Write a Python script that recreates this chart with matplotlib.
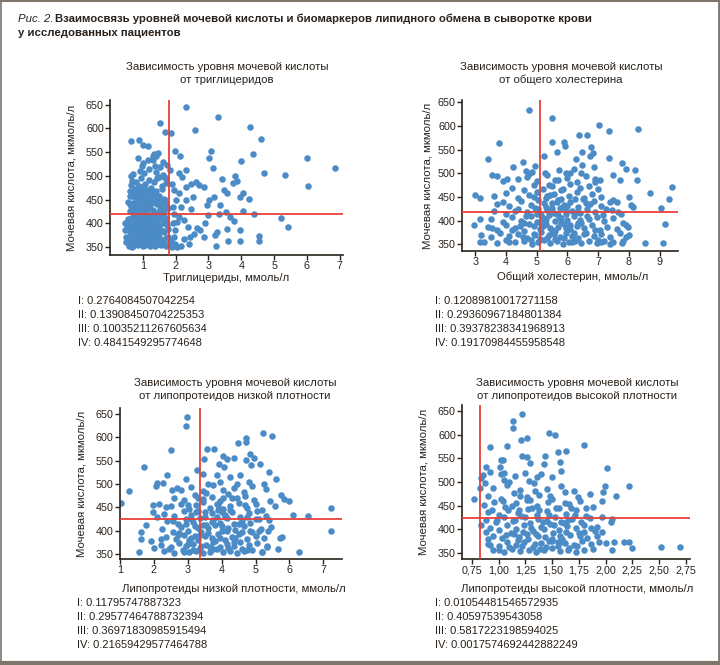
import matplotlib
matplotlib.use("Agg")
import matplotlib.pyplot as plt
from matplotlib import font_manager
from matplotlib.ticker import FuncFormatter
from matplotlib.lines import Line2D

# uric acid vs triglycerides (x: mmol/l, y: umol/l)
tg_pts = [
    (2.31, 645), (3.28, 625), (1.53, 612), (4.28, 603), (4.61, 577), (1.68, 592), (1.86, 591),
    (2.58, 597), (0.63, 573), (0.88, 575), (1.02, 566), (1.16, 562), (6.0, 538), (6.87, 516),
    (3.07, 553), (1.98, 552), (4.36, 546), (3.01, 538), (4.0, 531), (3.15, 516), (4.69, 506),
    (5.32, 501), (6.02, 478), (5.22, 412), (5.43, 392), (4.55, 374), (4.53, 362), (3.97, 362),
    (3.6, 362), (3.24, 351), (2.85, 370), (2.91, 400), (4.4, 419), (4.06, 425), (3.97, 456),
    (4.06, 464), (4.25, 452), (3.34, 438), (3.17, 456), (3.56, 463), (3.46, 470), (3.75, 484),
    (3.81, 500), (3.87, 490), (3.4, 494), (2.70, 481), (2.85, 476), (2.62, 488), (2.95, 439),
    (3.03, 448), (3.52, 423), (3.32, 419), (3.67, 413), (3.77, 405), (2.99, 417), (2.74, 385),
    (3.26, 382), (3.19, 376), (3.58, 387), (3.97, 385), (2.33, 512), (2.19, 497), (2.33, 477),
    (2.46, 483), (2.09, 463), (2.54, 456), (2.48, 431), (2.33, 449), (2.17, 435), (2.09, 413),
    (2.25, 406), (2.39, 392), (2.56, 378), (2.64, 389), (2.44, 371), (2.27, 366), (2.15, 353),
    (2.4, 356), (1.98, 357), (1.9, 350), (2.04, 350), (1.94, 371), (1.98, 385), (1.92, 400),
    (2.03, 403), (1.96, 420), (1.92, 435), (2.0, 449), (1.94, 470), (1.88, 483), (2.09, 505),
    (2.13, 541), (1.74, 523), (1.82, 512), (1.62, 530), (1.47, 548), (1.33, 546), (1.41, 541),
    (1.31, 533), (1.51, 519), (1.43, 495), (1.64, 498), (1.72, 495),
    (0.45, 400), (0.47, 385), (0.5, 372), (0.52, 395), (0.5, 360), (0.55, 410), (0.58, 352),
    (0.6, 425), (0.62, 440), (0.6, 468), (0.63, 480), (0.65, 500), (0.68, 490), (0.62, 458),
    (0.56, 445),
    (0.60, 356), (0.70, 352), (0.78, 358), (0.85, 354), (0.92, 357), (1.00, 351), (1.08, 355),
    (1.15, 359), (1.22, 353), (1.30, 357), (1.38, 352), (1.45, 356), (1.55, 354), (1.65, 358),
    (1.72, 351), (1.80, 356),
    (0.55, 368), (0.65, 363), (0.72, 371), (0.80, 366), (0.88, 373), (0.95, 362), (1.02, 369),
    (1.10, 374), (1.18, 364), (1.25, 370), (1.33, 367), (1.40, 362), (1.50, 372), (1.60, 365),
    (1.70, 369), (1.85, 363),
    (0.60, 381), (0.68, 388), (0.75, 377), (0.83, 384), (0.90, 379), (0.97, 389), (1.05, 382),
    (1.12, 376), (1.20, 386), (1.28, 380), (1.36, 388), (1.45, 378), (1.55, 385), (1.66, 381),
    (1.78, 387),
    (0.58, 398), (0.66, 392), (0.74, 403), (0.82, 395), (0.90, 401), (0.98, 393), (1.06, 399),
    (1.14, 404), (1.22, 391), (1.30, 397), (1.40, 402), (1.50, 394), (1.62, 400), (1.75, 396),
    (0.64, 412), (0.72, 407), (0.80, 417), (0.88, 410), (0.96, 415), (1.04, 408), (1.12, 418),
    (1.20, 411), (1.30, 406), (1.40, 414), (1.50, 409), (1.62, 416), (1.72, 412),
    (0.68, 428), (0.76, 423), (0.85, 432), (0.93, 425), (1.01, 430), (1.10, 422), (1.20, 434),
    (1.30, 427), (1.40, 421), (1.52, 431), (1.65, 426), (1.78, 433),
    (0.70, 443), (0.80, 438), (0.90, 447), (1.00, 440), (1.10, 445), (1.20, 437), (1.30, 449),
    (1.42, 441), (1.55, 446), (1.70, 439),
    (0.72, 455), (0.85, 461), (0.95, 452), (1.05, 458), (1.15, 463), (1.25, 454), (1.38, 460),
    (1.50, 457), (1.65, 451),
    (0.75, 472), (0.88, 467), (1.00, 477), (1.12, 470), (1.25, 475), (1.40, 468), (1.58, 473),
    (0.80, 486), (0.95, 495), (1.08, 483), (1.20, 491), (1.35, 488), (1.50, 497), (1.70, 484),
    (0.70, 503), (0.90, 510), (1.05, 505), (1.20, 515), (1.40, 508), (1.60, 502),
    (0.85, 538), (1.00, 527), (1.15, 533), (1.30, 542),
    (0.74, 360), (0.82, 375), (0.90, 365), (0.96, 383), (1.04, 361), (1.12, 391), (1.18, 372),
    (1.26, 398), (0.70, 395), (0.78, 412), (0.86, 400), (0.94, 420), (1.02, 404), (1.10, 427),
    (1.16, 395), (1.24, 418), (0.76, 436), (0.84, 450), (0.98, 462), (1.06, 436), (1.16, 447),
    (1.28, 465), (0.66, 377), (0.62, 405), (1.34, 378), (1.42, 391), (1.48, 420), (1.56, 440),
    (1.62, 383), (1.68, 405),
    (0.68, 350), (0.76, 366), (0.84, 390), (0.92, 410), (1.0, 386), (1.08, 365), (1.16, 430),
    (1.24, 356), (1.32, 392), (1.44, 366), (0.72, 420), (0.8, 455), (0.88, 478), (0.96, 438),
    (1.04, 470), (1.12, 455), (1.2, 402), (1.28, 442), (1.36, 412), (1.46, 452), (0.64, 436),
    (0.58, 387), (0.7, 463), (1.52, 362), (1.6, 428), (1.68, 448), (1.76, 372), (1.58, 479),
    (1.36, 520), (0.98, 520),
]

# uric acid vs total cholesterol
chol_pts = [
    (4.76, 633), (5.49, 617), (7.03, 603), (7.36, 589), (8.3, 593), (6.37, 581), (6.65, 581),
    (3.79, 565), (5.5, 567), (5.89, 567), (5.67, 546), (6.49, 546), (6.77, 555), (5.92, 557),
    (3.43, 530), (4.57, 523), (4.95, 516), (5.24, 537), (6.28, 531), (6.82, 543), (6.75, 537),
    (7.36, 533), (7.79, 521), (8.2, 508), (8.25, 487), (7.92, 509), (7.71, 487), (8.7, 459),
    (9.41, 472), (9.32, 445), (9.05, 426), (9.18, 394), (9.11, 352), (8.51, 352), (3.0, 454),
    (3.16, 449), (2.97, 390), (3.14, 404), (3.16, 354), (3.54, 497), (3.72, 495), (3.92, 484),
    (4.03, 489), (4.22, 514), (4.65, 504), (4.76, 499), (4.86, 502), (5.28, 500), (5.74, 508),
    (5.97, 500), (6.1, 500), (6.43, 500), (6.49, 518), (6.86, 514), (6.89, 482), (7.05, 487),
    (7.49, 497), (8.07, 434), (8.14, 428), (8.0, 451), (7.49, 444), (7.65, 419), (7.76, 415),
    (7.97, 387), (7.92, 366), (7.79, 352), (7.38, 350), (7.11, 355),
    (3.3, 356), (3.7, 352), (4.0, 359), (4.3, 354), (4.6, 357), (4.85, 351), (5.05, 355),
    (5.25, 360), (5.45, 353), (5.65, 357), (5.85, 351), (6.05, 356), (6.25, 359), (6.45, 353),
    (6.7, 357), (6.95, 352), (7.2, 358), (7.5, 354), (7.8, 357),
    (3.2, 370), (3.5, 365), (3.8, 374), (4.1, 367), (4.4, 372), (4.7, 363), (4.95, 369),
    (5.15, 376), (5.35, 364), (5.55, 371), (5.75, 366), (5.95, 375), (6.15, 368), (6.35, 363),
    (6.6, 373), (6.85, 367), (7.1, 371), (7.4, 365), (7.7, 374), (8.0, 369),
    (3.4, 386), (3.7, 381), (4.0, 391), (4.3, 384), (4.6, 379), (4.9, 389), (5.1, 383),
    (5.3, 393), (5.5, 380), (5.7, 387), (5.9, 392), (6.1, 382), (6.3, 388), (6.55, 385),
    (6.8, 391), (7.05, 380), (7.3, 386), (7.6, 383), (7.9, 390),
    (3.5, 403), (3.9, 398), (4.2, 408), (4.5, 400), (4.8, 410), (5.0, 397), (5.2, 405),
    (5.4, 411), (5.6, 399), (5.8, 406), (6.0, 402), (6.2, 409), (6.45, 396), (6.7, 404),
    (6.95, 408), (7.2, 399), (7.5, 405),
    (3.6, 420), (4.0, 415), (4.4, 425), (4.7, 418), (4.95, 427), (5.15, 413), (5.35, 422),
    (5.55, 417), (5.75, 426), (5.95, 414), (6.15, 421), (6.4, 416), (6.65, 424), (6.9, 419),
    (7.15, 413), (7.45, 423),
    (3.7, 436), (4.1, 431), (4.5, 441), (4.8, 434), (5.05, 443), (5.3, 430), (5.5, 438),
    (5.7, 444), (5.9, 433), (6.1, 440), (6.35, 429), (6.6, 437), (6.85, 442), (7.1, 432),
    (7.4, 439),
    (3.6, 452), (4.0, 458), (4.4, 447), (4.75, 455), (5.0, 461), (5.3, 449), (5.55, 457),
    (5.8, 446), (6.05, 453), (6.3, 460), (6.55, 448), (6.8, 456), (7.1, 451),
    (4.2, 470), (4.6, 465), (4.9, 476), (5.2, 468), (5.5, 473), (5.8, 464), (6.1, 478),
    (6.4, 469), (6.7, 474), (7.0, 466),
    (4.4, 488), (4.7, 493), (5.0, 484), (5.35, 497), (5.7, 486), (6.0, 491), (6.3, 482),
    (6.6, 495), (6.9, 489),
    (4.55, 366), (4.75, 392), (4.9, 372), (5.0, 414), (5.1, 361), (5.2, 388), (5.3, 404),
    (5.4, 370), (5.5, 426), (5.6, 378), (5.7, 412), (5.8, 395), (5.9, 364), (6.0, 432),
    (6.1, 390), (6.2, 375), (6.3, 418), (6.4, 401), (6.5, 446), (5.45, 455), (5.65, 440),
    (5.85, 468), (6.05, 382), (6.25, 358), (4.65, 410), (4.45, 389), (5.25, 437), (5.95, 421),
    (4.2, 380), (4.6, 395), (4.8, 360), (5.05, 425), (5.15, 395), (5.35, 452), (5.45, 385),
    (5.6, 362), (5.75, 405), (5.85, 430), (5.95, 385), (6.15, 355), (6.25, 445), (6.35, 395),
    (6.55, 372), (6.65, 410), (6.75, 435), (6.9, 380), (7.0, 360), (7.25, 425), (3.9, 440),
    (4.1, 355), (4.3, 420), (3.55, 385), (7.6, 440), (7.8, 395), (6.2, 510), (5.6, 485),
    (4.9, 450), (5.4, 475),
]

# uric acid vs LDL
ldl_pts = [
    (2.98, 643), (2.94, 624), (5.22, 610), (5.47, 603), (4.71, 598), (4.71, 590), (4.49, 588),
    (3.57, 575), (3.78, 575), (2.51, 572), (1.71, 537), (1.27, 485), (1.02, 460), (1.78, 412),
    (1.61, 398), (1.61, 382), (1.57, 355), (7.24, 448), (7.22, 400), (6.56, 431), (6.29, 355),
    (6.1, 433), (5.98, 463), (5.84, 468), (5.76, 476), (5.67, 360), (5.78, 387), (5.73, 383),
    (5.61, 510), (5.39, 525), (5.12, 543), (4.86, 540), (4.94, 556), (4.84, 565), (4.71, 552),
    (4.35, 555), (4.04, 560), (4.16, 553), (3.92, 543), (4.06, 537), (3.47, 553), (3.27, 530),
    (3.45, 521), (2.96, 510), (2.39, 520), (2.1, 501), (2.06, 495), (2.27, 502), (2.69, 492),
    (2.53, 487), (5.25, 500), (5.31, 490), (5.43, 463), (5.57, 452), (5.39, 423), (5.1, 400),
    (5.37, 400), (5.33, 367), (5.2, 355), (4.75, 358), (2.08, 430), (1.96, 440), (2.16, 458),
    (1.96, 455), (1.9, 378), (2.0, 362), (2.2, 382),
    (2.3, 356), (2.6, 352), (2.85, 359), (3.05, 354), (3.25, 357), (3.45, 351), (3.65, 355),
    (3.85, 360), (4.05, 353), (4.25, 357), (4.45, 351), (4.65, 356), (4.9, 359), (5.2, 353),
    (2.2, 369), (2.5, 365), (2.75, 374), (2.95, 367), (3.15, 372), (3.35, 363), (3.55, 370),
    (3.75, 376), (3.95, 364), (4.15, 371), (4.35, 366), (4.55, 375), (4.8, 368), (5.05, 373),
    (5.35, 364),
    (2.35, 386), (2.65, 381), (2.9, 391), (3.1, 384), (3.3, 379), (3.5, 389), (3.7, 383),
    (3.9, 393), (4.1, 380), (4.3, 387), (4.5, 392), (4.75, 382), (5.0, 388), (5.25, 385),
    (2.25, 403), (2.55, 398), (2.8, 408), (3.0, 400), (3.2, 410), (3.4, 397), (3.6, 405),
    (3.8, 411), (4.0, 399), (4.2, 406), (4.4, 402), (4.65, 409), (4.9, 396), (5.15, 404),
    (5.45, 407),
    (2.4, 420), (2.7, 415), (2.95, 425), (3.15, 418), (3.35, 427), (3.55, 413), (3.75, 422),
    (3.95, 417), (4.15, 426), (4.35, 414), (4.6, 421), (4.85, 416), (5.1, 424),
    (2.3, 436), (2.6, 431), (2.9, 441), (3.1, 434), (3.3, 443), (3.5, 430), (3.7, 438),
    (3.9, 444), (4.1, 433), (4.3, 440), (4.55, 429), (4.8, 437), (5.05, 442), (5.3, 432),
    (2.5, 452), (2.8, 458), (3.05, 447), (3.25, 455), (3.45, 461), (3.65, 449), (3.85, 457),
    (4.05, 446), (4.25, 453), (4.5, 460), (4.75, 448), (5.0, 456),
    (2.6, 470), (2.9, 465), (3.2, 476), (3.45, 468), (3.7, 473), (3.95, 464), (4.2, 478),
    (4.45, 469), (4.7, 474), (4.95, 466),
    (2.8, 488), (3.1, 493), (3.45, 484), (3.75, 497), (4.05, 486), (4.35, 491), (4.65, 482),
    (4.9, 495),
    (3.0, 372), (3.2, 388), (3.4, 366), (3.6, 395), (3.8, 378), (4.0, 410), (4.2, 362),
    (4.4, 385), (4.6, 398), (3.1, 425), (3.3, 405), (3.5, 440), (3.7, 418), (3.9, 455),
    (4.1, 430), (4.3, 470), (3.55, 480), (3.95, 505), (4.25, 515), (4.45, 500), (2.7, 390),
    (2.9, 355), (3.75, 360), (4.75, 430),
    (2.45, 360), (2.75, 395), (2.95, 415), (3.05, 380), (3.15, 358), (3.25, 440), (3.35, 390),
    (3.45, 412), (3.65, 365), (3.85, 430), (3.95, 385), (4.05, 470), (4.15, 400), (4.25, 445),
    (4.35, 375), (4.5, 415), (4.6, 360), (4.7, 455), (4.85, 400), (5.0, 425), (3.3, 470),
    (3.6, 500), (3.85, 520), (4.55, 520), (4.8, 505), (2.55, 420), (2.35, 450), (5.2, 445),
    (3.0, 455), (4.0, 440),
]

# uric acid vs HDL
hdl_pts = [
    (1.22, 645), (1.13, 629), (1.13, 615), (1.47, 604), (1.53, 600), (1.26, 593), (1.21, 589),
    (1.08, 577), (0.92, 574), (1.80, 578), (1.63, 565), (1.55, 564), (1.43, 555), (1.22, 556),
    (1.26, 552), (1.29, 540), (1.42, 538), (1.57, 542), (1.58, 523), (1.5, 510), (2.01, 530),
    (2.22, 492), (2.10, 470), (1.99, 492), (1.98, 478), (1.97, 460), (0.77, 465), (0.82, 488),
    (0.83, 508), (0.85, 515), (0.88, 532), (0.92, 522), (0.87, 498), (0.83, 408), (0.88, 395),
    (0.90, 380), (0.92, 366), (1.02, 516), (1.02, 546), (1.04, 547), (1.01, 532), (1.05, 518),
    (2.52, 362), (2.7, 362), (2.22, 372), (2.17, 372), (2.25, 360), (2.08, 372), (2.06, 356),
    (2.05, 415), (2.06, 422), (1.97, 425), (1.97, 395), (2.0, 370), (1.92, 405), (1.86, 403),
    (0.95, 356), (1.05, 352), (1.12, 359), (1.2, 354), (1.28, 357), (1.35, 351), (1.42, 355),
    (1.5, 360), (1.57, 353), (1.65, 357), (1.72, 351), (1.8, 356), (1.88, 359),
    (0.9, 369), (1.0, 365), (1.08, 374), (1.16, 367), (1.24, 372), (1.32, 363), (1.4, 370),
    (1.47, 376), (1.55, 364), (1.62, 371), (1.7, 366), (1.78, 375), (1.86, 368), (1.94, 373),
    (0.95, 386), (1.03, 381), (1.11, 391), (1.19, 384), (1.27, 379), (1.35, 389), (1.43, 383),
    (1.51, 393), (1.59, 380), (1.67, 387), (1.75, 392), (1.83, 382),
    (0.92, 403), (1.0, 398), (1.08, 408), (1.16, 400), (1.24, 410), (1.32, 397), (1.4, 405),
    (1.48, 411), (1.56, 399), (1.64, 406), (1.72, 402), (1.8, 409), (1.9, 396),
    (0.88, 420), (0.97, 415), (1.05, 425), (1.13, 418), (1.21, 427), (1.29, 413), (1.37, 422),
    (1.45, 417), (1.53, 426), (1.61, 414), (1.69, 421), (1.77, 416), (1.85, 424),
    (0.9, 436), (1.0, 431), (1.09, 441), (1.18, 434), (1.27, 443), (1.36, 430), (1.45, 438),
    (1.54, 444), (1.63, 433), (1.72, 440), (1.82, 429),
    (0.86, 452), (0.96, 458), (1.06, 447), (1.16, 455), (1.26, 461), (1.36, 449), (1.46, 457),
    (1.56, 446), (1.66, 453), (1.76, 460), (1.88, 448),
    (0.9, 470), (1.02, 465), (1.14, 476), (1.26, 468), (1.38, 473), (1.5, 464), (1.62, 478),
    (1.74, 469), (1.85, 474),
    (0.95, 488), (1.08, 493), (1.2, 484), (1.33, 497), (1.45, 486), (1.58, 491), (1.7, 482),
    (1.05, 505), (1.15, 512), (1.28, 503), (1.4, 517),
    (1.1, 362), (1.18, 377), (1.26, 390), (1.34, 368), (1.42, 400), (1.5, 380), (1.58, 415),
    (1.66, 360), (1.15, 420), (1.23, 395), (1.31, 445), (1.39, 358), (1.47, 430), (1.55, 372),
    (1.63, 395), (1.71, 430), (1.07, 388), (1.29, 462), (1.19, 440), (1.37, 385),
    (1.0, 355), (1.14, 390), (1.22, 365), (1.3, 402), (1.38, 440), (1.44, 362), (1.52, 408),
    (1.6, 372), (1.68, 445), (1.76, 386), (1.12, 450), (1.2, 470), (1.34, 480), (1.48, 470),
    (1.62, 455), (0.98, 420), (1.04, 460), (1.25, 425), (1.41, 415), (1.57, 385), (1.73, 365),
    (1.82, 445), (1.92, 385), (1.1, 500), (1.25, 520), (1.36, 510), (1.5, 375), (1.65, 420),
    (1.8, 395), (0.94, 440),
]

titles = [
    ["Зависимость уровня мочевой кислоты", "от триглицеридов"],
    ["Зависимость уровня мочевой кислоты", "от общего холестерина"],
    ["Зависимость уровня мочевой кислоты", "от липопротеидов низкой плотности"],
    ["Зависимость уровня мочевой кислоты", "от липопротеидов высокой плотности"],
]
xlabels = [
    "Триглицериды, ммоль/л",
    "Общий холестерин, ммоль/л",
    "Липопротеиды низкой плотности, ммоль/л",
    "Липопротеиды высокой плотности, ммоль/л",
]
ylabel = "Мочевая кислота, мкмоль/л"
stats = [
    ["0.2764084507042254", "0.13908450704225353", "0.10035211267605634", "0.4841549295774648"],
    ["0.12089810017271158", "0.29360967184801384", "0.39378238341968913", "0.19170984455958548"],
    ["0.11795747887323", "0.29577464788732394", "0.36971830985915494", "0.21659429577464788"],
    ["0.01054481546572935", "0.40597539543058", "0.5817223198594025", "0.0017574692442882249"],
]
roman = ["I", "II", "III", "IV"]

cut_x = [1.8, 5.1, 3.35, 0.82]
cut_y = [420, 418, 425, 424]
xticks = [[1, 2, 3, 4, 5, 6, 7], [3, 4, 5, 6, 7, 8, 9], [1, 2, 3, 4, 5, 6, 7],
          [0.75, 1.0, 1.25, 1.5, 1.75, 2.0, 2.25, 2.5, 2.75]]
yticks = [350, 400, 450, 500, 550, 600, 650]

W, H = 720, 665
dark = "#2a221c"
dot = "#4b8bc6"
red = "#e8403a"

installed = {f.name for f in font_manager.fontManager.ttflist}
if "Liberation Sans Narrow" in installed:
    base = "Liberation Sans Narrow"
    k = 1.0
else:
    base = "Liberation Sans"
    k = 0.82
plt.rcParams["font.family"] = [base, "DejaVu Sans"]

fs_title = 10.0 * k
fs_sub = 10.0 * k
fs_lab = 10.0 * k
fs_stat = 9.8 * k
fs_tick = 9.4 * k


def fx(x):
    return x / W


def fy(y):
    return 1 - y / H


fig = plt.figure(figsize=(7.2, 6.65), dpi=100)
fig.patch.set_facecolor("white")

# axes boxes in pixels: left, top, right, bottom
boxes = [(110, 100, 343, 255), (462, 100, 678, 251), (120, 408, 342, 559), (462, 405, 690, 559)]
xlims = [(0, 7.1), (2.57, 9.6), (1.0, 7.55), (0.656, 2.79)]
ylims = [(333, 660), (336, 655), (339, 663), (337, 663)]
data = [tg_pts, chol_pts, ldl_pts, hdl_pts]
title_pos = [(227, 67), (561, 67), (235, 383), (577, 383)]
xlabel_pos = [(226, 278), (573, 277), (234, 589), (577, 589)]
ylabel_x = [72, 427, 82, 423]
stats_pos = [(78, 301), (435, 301), (77, 603), (435, 603)]

for i in range(4):
    l, t, r, b = boxes[i]
    ax = fig.add_axes([fx(l), fy(b), (r - l) / W, (b - t) / H])
    xs = [p[0] for p in data[i]]
    ys = [p[1] for p in data[i]]
    ax.scatter(xs, ys, s=22, color=dot, linewidths=0, zorder=2)
    ax.axvline(cut_x[i], color=red, lw=1.3, zorder=3)
    ax.axhline(cut_y[i], color=red, lw=1.3, zorder=3)
    ax.set_xlim(*xlims[i])
    ax.set_ylim(*ylims[i])
    ax.set_xticks(xticks[i])
    ax.set_yticks(yticks)
    if i == 3:
        ax.xaxis.set_major_formatter(FuncFormatter(lambda v, p: f"{v:.2f}".replace(".", ",")))
    for s in ["top", "right"]:
        ax.spines[s].set_visible(False)
    for s in ["left", "bottom"]:
        ax.spines[s].set_color(dark)
        ax.spines[s].set_linewidth(1.2)
    ax.tick_params(direction="out", length=3.5, width=1, colors=dark, labelsize=fs_tick, pad=1)

    cx, cy = title_pos[i]
    fig.text(fx(cx), fy(cy), titles[i][0], ha="center", va="center", fontsize=fs_sub, color=dark)
    fig.text(fx(cx), fy(cy + 13), titles[i][1], ha="center", va="center", fontsize=fs_sub, color=dark)
    lx, ly = xlabel_pos[i]
    fig.text(fx(lx), fy(ly), xlabels[i], ha="center", va="center", fontsize=fs_lab, color=dark)
    fig.text(fx(ylabel_x[i]), fy((t + b) / 2), ylabel, ha="center", va="center",
             rotation=90, fontsize=fs_lab, color=dark)
    sx, sy = stats_pos[i]
    for j in range(4):
        fig.text(fx(sx), fy(sy + 14 * j), f"{roman[j]}: {stats[i][j]}", ha="left", va="center",
                 fontsize=fs_stat, color=dark)

fig.text(fx(18), fy(19), "Рис. 2.", ha="left", va="center", fontsize=fs_title, style="italic", color=dark)
fig.text(fx(55), fy(19), "Взаимосвязь уровней мочевой кислоты и биомаркеров липидного обмена в сыворотке крови",
         ha="left", va="center", fontsize=fs_title, fontweight="bold", color=dark)
fig.text(fx(18), fy(33), "у исследованных пациентов", ha="left", va="center", fontsize=fs_title,
         fontweight="bold", color=dark)

# frame around the figure
frame = "#7d776b"
fig.add_artist(Line2D([0, 1], [fy(1), fy(1)], transform=fig.transFigure, color=frame, lw=1.5))
fig.add_artist(Line2D([fx(1), fx(1)], [0, 1], transform=fig.transFigure, color=frame, lw=1.2))
fig.add_artist(Line2D([fx(718.5), fx(718.5)], [0, 1], transform=fig.transFigure, color=frame, lw=2))
fig.add_artist(Line2D([0, 1], [fy(663), fy(663)], transform=fig.transFigure, color=frame, lw=3))

fig.savefig("out.png", dpi=100)
